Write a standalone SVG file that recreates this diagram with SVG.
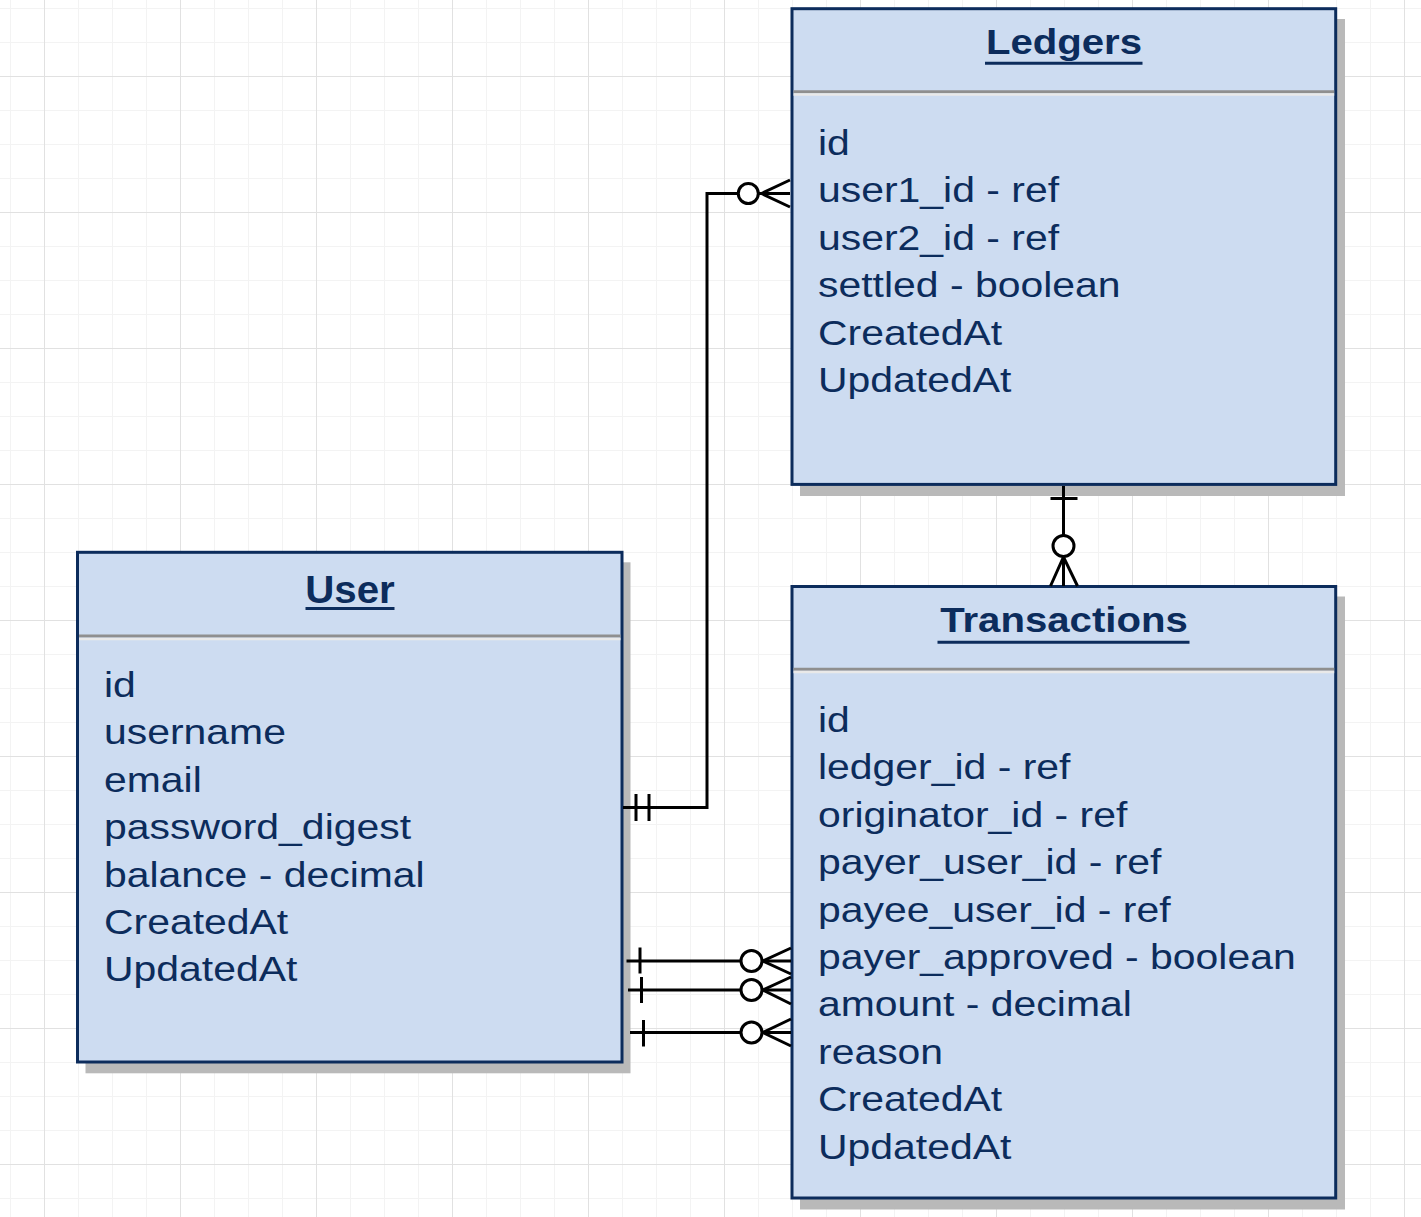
<svg xmlns="http://www.w3.org/2000/svg" width="1421" height="1217" viewBox="0 0 1421 1217">
<defs>
<pattern id="gridMinor" patternUnits="userSpaceOnUse" x="10" y="8" width="34" height="34">
<path d="M0 0.5 H34 M0.5 0 V34" fill="none" stroke="#f3f3f3" stroke-width="1"/>
</pattern>
<pattern id="gridMajor" patternUnits="userSpaceOnUse" x="44" y="76" width="136" height="136">
<path d="M0 0.5 H136 M0.5 0 V136" fill="none" stroke="#e1e1e1" stroke-width="1"/>
</pattern>
</defs>
<style>
.shadow{fill:#b9b9b9;}
.box{fill:#cddcf1;stroke:#0c2c5c;stroke-width:3;}
.sep{stroke:#8f8f8f;stroke-width:3;}
.sepl{stroke:#e9e9e9;stroke-width:2.5;}
.ul{stroke:#0c2c5c;stroke-width:3;}
.hdr{font-family:"Liberation Sans",Arial,sans-serif;font-size:35px;font-weight:bold;fill:#0c2c5c;text-anchor:middle;}
.attr{font-family:"Liberation Sans",Arial,sans-serif;font-size:36px;fill:#0c2c5c;}
.conn{fill:none;stroke:#000;stroke-width:3;}
.circ{fill:#fff;stroke:#000;stroke-width:3;}
</style>
<rect width="1421" height="1217" fill="#fff"/>
<rect width="1421" height="1217" fill="url(#gridMinor)"/>
<rect width="1421" height="1217" fill="url(#gridMajor)"/>

<g id="ledgers">
<rect class="shadow" x="800" y="19" width="545" height="477"/>
<rect class="box" x="792" y="8.7" width="543.7" height="475.7"/>
<line class="sep" x1="793.5" y1="91.7" x2="1334.2" y2="91.7"/>
<line class="sepl" x1="793.5" y1="94.6" x2="1334.2" y2="94.6"/>
<g transform="translate(1064,0) scale(1.147,1)"><text class="hdr" x="0" y="54">Ledgers</text></g>
<line class="ul" x1="985" y1="63.3" x2="1142.5" y2="63.3"/>
<g transform="translate(818,0) scale(1.137,1)">
<text class="attr" x="0" y="155">id</text>
<text class="attr" x="0" y="202.4">user1_id - ref</text>
<text class="attr" x="0" y="249.8">user2_id - ref</text>
<text class="attr" x="0" y="297.2">settled - boolean</text>
<text class="attr" x="0" y="344.6">CreatedAt</text>
<text class="attr" x="0" y="392">UpdatedAt</text>
</g>
</g>

<g id="user">
<rect class="shadow" x="85.5" y="562.3" width="545" height="511"/>
<rect class="box" x="77.5" y="552.3" width="544.5" height="509.7"/>
<line class="sep" x1="79" y1="636" x2="620.5" y2="636"/>
<line class="sepl" x1="79" y1="639" x2="620.5" y2="639"/>
<g transform="translate(350,0) scale(1.06,1)"><text class="hdr" x="0" y="603" style="font-size:38px">User</text></g>
<line class="ul" x1="305.5" y1="608.5" x2="394.5" y2="608.5"/>
<g transform="translate(104,0) scale(1.137,1)">
<text class="attr" x="0" y="697">id</text>
<text class="attr" x="0" y="744.4">username</text>
<text class="attr" x="0" y="791.8">email</text>
<text class="attr" x="0" y="839.2">password_digest</text>
<text class="attr" x="0" y="886.6">balance - decimal</text>
<text class="attr" x="0" y="934">CreatedAt</text>
<text class="attr" x="0" y="981.4">UpdatedAt</text>
</g>
</g>

<g id="transactions">
<rect class="shadow" x="800" y="596.5" width="545" height="613"/>
<rect class="box" x="792" y="586.5" width="543.7" height="611.5"/>
<line class="sep" x1="793.5" y1="669.2" x2="1334.2" y2="669.2"/>
<line class="sepl" x1="793.5" y1="672" x2="1334.2" y2="672"/>
<g transform="translate(1064,0) scale(1.147,1)"><text class="hdr" x="0" y="632.3">Transactions</text></g>
<line class="ul" x1="937.5" y1="642.2" x2="1189.5" y2="642.2"/>
<g transform="translate(818,0) scale(1.137,1)">
<text class="attr" x="0" y="732">id</text>
<text class="attr" x="0" y="779.4">ledger_id - ref</text>
<text class="attr" x="0" y="826.8">originator_id - ref</text>
<text class="attr" x="0" y="874.2">payer_user_id - ref</text>
<text class="attr" x="0" y="921.6">payee_user_id - ref</text>
<text class="attr" x="0" y="969">payer_approved - boolean</text>
<text class="attr" x="0" y="1016.4">amount - decimal</text>
<text class="attr" x="0" y="1063.8">reason</text>
<text class="attr" x="0" y="1111.2">CreatedAt</text>
<text class="attr" x="0" y="1158.6">UpdatedAt</text>
</g>
</g>

<g id="connectors">
<g id="user-ledgers">
<path class="conn" d="M623 807.5 H707 V193.5 H790"/>
<path class="conn" d="M636 794 V821 M649 794 V821"/>
<path class="conn" d="M790 180 L761.5 193.5 L790 207"/>
<circle class="circ" cx="748.3" cy="193.5" r="10"/>
</g>
<g id="ledgers-transactions">
<path class="conn" d="M1063.5 486 V586"/>
<path class="conn" d="M1050.5 498.5 H1077.5"/>
<path class="conn" d="M1050.5 586 L1063.5 557 L1077.5 586"/>
<circle class="circ" cx="1063.5" cy="546" r="10.5"/>
</g>
<g id="user-transactions-1">
<path class="conn" d="M626.5 961 H791"/>
<path class="conn" d="M640 947.5 V973.5"/>
<path class="conn" d="M791 948 L763 961 L791 974"/>
<circle class="circ" cx="751.5" cy="961" r="10.5"/>
</g>
<g id="user-transactions-2">
<path class="conn" d="M628 990 H791"/>
<path class="conn" d="M641.5 977 V1003"/>
<path class="conn" d="M791 977 L763 990 L791 1004"/>
<circle class="circ" cx="751.5" cy="990" r="10.5"/>
</g>
<g id="user-transactions-3">
<path class="conn" d="M630 1032.5 H791"/>
<path class="conn" d="M643.5 1020 V1046.5"/>
<path class="conn" d="M791 1019 L763 1032.5 L791 1046"/>
<circle class="circ" cx="751.5" cy="1032.5" r="10.5"/>
</g>
</g>
</svg>
